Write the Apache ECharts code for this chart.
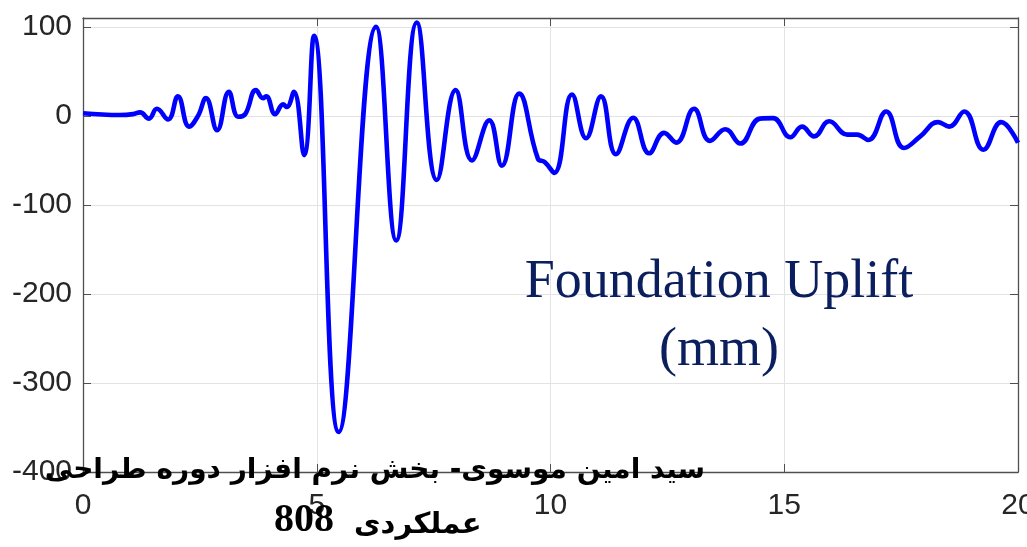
<!DOCTYPE html>
<html>
<head>
<meta charset="utf-8">
<script src="https://cdn.jsdelivr.net/npm/echarts@6/dist/echarts.min.js"></script>
<style>
  html, body { margin: 0; padding: 0; background: #ffffff; }
  #chart { width: 1027px; height: 547px; }
</style>
</head>
<body>
<div id="chart"></div>
<script>
// Time (s) of each sampled point along the uplift record
const timeS = [
  0, 0.79, 1.07, 1.22, 1.41, 1.58, 1.82, 2.03, 2.27, 2.46, 2.63, 2.87, 3.12, 3.32, 3.47,
  3.70, 3.85, 3.92, 4.11, 4.28, 4.36, 4.51, 4.73, 4.94, 5.47, 6.27, 6.70, 7.14, 7.57,
  7.97, 8.32, 8.69, 8.96, 9.33, 9.73, 9.88, 10.08, 10.46, 10.76, 11.08, 11.40, 11.77,
  12.11, 12.43, 12.69, 13.07, 13.41, 13.74, 14.06, 14.48, 14.76, 15.13, 15.38, 15.64,
  15.96, 16.35, 16.56, 16.80, 17.18, 17.56, 17.91, 18.29, 18.53, 18.85, 19.26, 19.64, 20.0
];
// Foundation uplift (mm) at each time above
const upliftMm = [
  3, 1, 2, 4, -3, 8, -4, 22, -12, 0, 20, -16, 27, -1, 2,
  29, 20, 22, 2, 13, 10, 27, -44, 90, -355, 100, -140, 105, -72,
  29, -50, -5, -56, 25, -48, -52, -64, 24, -25, 22, -43, -2,
  -42, -19, -30, 8, -28, -15, -31, -3, -2.5, -24, -12, -23,
  -6, -21, -21, -27, 5, -36, -23, -7, -12, 5, -38, -7, -30
];
const xTickStep = 5;
const yTickStep = 100;
const plotTitleLines = ['Foundation Uplift', '(mm)'];
const noteLine1 = 'سید امین موسوی- بخش نرم افزار دوره طراحی';
const noteLine2Word = 'عملکردی';
const noteLine2Number = '808';

const points = timeS.map((t, i) => [t, upliftMm[i]]);

const axisColor = '#4f4f4f';
const labelColor = '#262626';
const gridColor = '#e3e3e3';
const labelFont = 'Liberation Sans';

const chart = echarts.init(document.getElementById('chart'), null, { renderer: 'canvas' });

chart.setOption({
  animation: false,
  backgroundColor: '#ffffff',
  grid: { left: 83, right: 9, top: 18, bottom: 75, containLabel: false, outerBoundsMode: 'none' },
  xAxis: [
    {
      type: 'value', min: 0, max: 20, interval: xTickStep, position: 'bottom',
      axisLine: { show: true, onZero: false, lineStyle: { color: axisColor, width: 1.3 } },
      axisTick: { show: true, inside: true, length: 8, lineStyle: { color: axisColor } },
      axisLabel: { color: labelColor, fontSize: 30, fontFamily: labelFont, margin: 19 },
      splitLine: { show: true, lineStyle: { color: gridColor, width: 1 } }
    },
    {
      type: 'value', min: 0, max: 20, interval: xTickStep, position: 'top',
      axisLine: { show: true, onZero: false, lineStyle: { color: axisColor, width: 1.3 } },
      axisTick: { show: true, inside: true, length: 8, lineStyle: { color: axisColor } },
      axisLabel: { show: false },
      splitLine: { show: false }
    }
  ],
  yAxis: [
    {
      type: 'value', min: -400, max: 110, interval: yTickStep, position: 'left',
      axisLine: { show: true, onZero: false, lineStyle: { color: axisColor, width: 1.3 } },
      axisTick: { show: true, inside: true, length: 8, lineStyle: { color: axisColor } },
      axisLabel: {
        color: labelColor, fontSize: 30, fontFamily: labelFont, margin: 11,
        formatter: v => (v % yTickStep === 0 ? String(v) : '')
      },
      splitLine: { show: true, lineStyle: { color: gridColor, width: 1 } }
    },
    {
      type: 'value', min: -400, max: 110, interval: yTickStep, position: 'right',
      axisLine: { show: true, onZero: false, lineStyle: { color: axisColor, width: 1.3 } },
      axisTick: { show: true, inside: true, length: 8, lineStyle: { color: axisColor } },
      axisLabel: { show: false },
      splitLine: { show: false }
    }
  ],
  series: [
    {
      type: 'line',
      xAxisIndex: 0,
      yAxisIndex: 0,
      data: points,
      smooth: 0.45,
      showSymbol: false,
      lineStyle: { color: '#0000ff', width: 4.6 },
      z: 3
    }
  ],
  graphic: [
    {
      type: 'text', x: 719, y: 317, z: 10,
      style: {
        text: plotTitleLines.join('\n'),
        fill: '#0b1f5e',
        font: '54px "Liberation Serif"',
        lineHeight: 68,
        align: 'center',
        verticalAlign: 'middle'
      }
    },
    {
      type: 'text', x: 375, y: 485, z: 10,
      style: {
        text: '\u202B' + noteLine1 + '\u202C',
        fill: '#000000',
        font: 'bold 28px "DejaVu Sans"',
        align: 'center',
        verticalAlign: 'bottom'
      }
    },
    {
      type: 'text', x: 354, y: 540, z: 10,
      style: {
        text: '\u202B' + noteLine2Word + '\u202C',
        fill: '#000000',
        font: 'bold 29px "DejaVu Sans"',
        align: 'left',
        verticalAlign: 'bottom'
      }
    },
    {
      type: 'text', x: 334, y: 541, z: 10,
      style: {
        text: noteLine2Number,
        fill: '#000000',
        font: 'bold 40px "Liberation Serif"',
        align: 'right',
        verticalAlign: 'bottom'
      }
    }
  ]
});
</script>
</body>
</html>
